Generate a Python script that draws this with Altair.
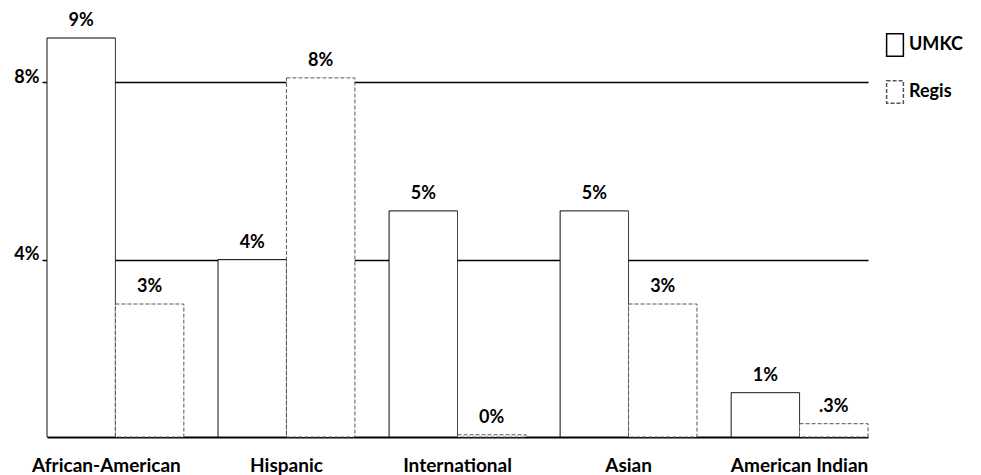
import altair as alt
import pandas as pd

categories = ["African-American", "Hispanic", "International", "Asian", "American Indian"]
umkc_values = [9.0, 4.0, 5.1, 5.1, 1.0]
regis_values = [3.0, 8.1, 0.05, 3.0, 0.3]
umkc_labels = ["9%", "4%", "5%", "5%", "1%"]
regis_labels = ["3%", "8%", "0%", "3%", ".3%"]
series = ["UMKC", "Regis"]
y_ticks = [4, 8]

rows = []
for c, v, l in zip(categories, umkc_values, umkc_labels):
    rows.append({"category": c, "series": "UMKC", "value": v, "label": l})
for c, v, l in zip(categories, regis_values, regis_labels):
    rows.append({"category": c, "series": "Regis", "value": v, "label": l})
df = pd.DataFrame(rows)

FONT = "Lato"

x_enc = alt.X(
    "category:N",
    sort=categories,
    scale=alt.Scale(paddingInner=0.2, paddingOuter=0),
    axis=alt.Axis(
        title=None, labelAngle=0, ticks=False, domain=True, domainColor="black",
        domainWidth=2, labelPadding=19, labelFont=FONT, labelFontSize=19,
        labelFontWeight="bold", labelColor="black",
        labelOffset={"condition": {"test": "datum.value == 'African-American'", "value": -9},
                     "value": 0},
    ),
)
xoff = alt.XOffset("series:N", sort=series, scale=alt.Scale(paddingInner=0, paddingOuter=0))
y_enc = alt.Y(
    "value:Q",
    scale=alt.Scale(domain=[0, 9], nice=False),
    axis=alt.Axis(
        title=None, values=y_ticks, labelExpr="datum.value + '%'", domain=False,
        grid=True, gridColor="black", gridWidth=1.6, tickColor="black", tickSize=5,
        tickWidth=1.5, labelFont=FONT, labelFontSize=18, labelFontWeight="bold",
        labelColor="black", labelBaseline="alphabetic", labelPadding=3,
    ),
)

legend = alt.Legend(
    title=None, orient="none", legendX=836, legendY=-5, padding=0,
    symbolType="M-0.75,-1L0.75,-1L0.75,1L-0.75,1Z", symbolSize=500,
    symbolFillColor="white", rowPadding=17, labelOffset=2,
    labelFont=FONT, labelFontSize=18, labelFontWeight="bold", labelColor="black",
)

bars = alt.Chart(df).mark_bar(fill="white").encode(
    x=x_enc,
    xOffset=xoff,
    y=y_enc,
    stroke=alt.Stroke("series:N", sort=series,
                      scale=alt.Scale(domain=series, range=["black", "#555555"]),
                      legend=legend),
    strokeDash=alt.StrokeDash("series:N", sort=series,
                              scale=alt.Scale(domain=series, range=[[1, 0], [4, 2]]),
                              legend=legend),
)

texts = alt.Chart(df).mark_text(
    baseline="bottom", dy=-8, font=FONT, fontSize=18, fontWeight="bold", color="black"
).encode(
    x=alt.X("category:N", sort=categories),
    xOffset=xoff,
    y=alt.Y("value:Q"),
    text="label:N",
)

chart = (
    alt.layer(bars, texts)
    .properties(
        width=821, height=399,
        autosize=alt.AutoSizeParams(type="none"),
        padding={"left": 39, "top": 30, "right": 105, "bottom": 38},
    )
    .configure_view(stroke=None)
)

chart.save("out.html", embed_options={"renderer": "svg", "actions": False})
